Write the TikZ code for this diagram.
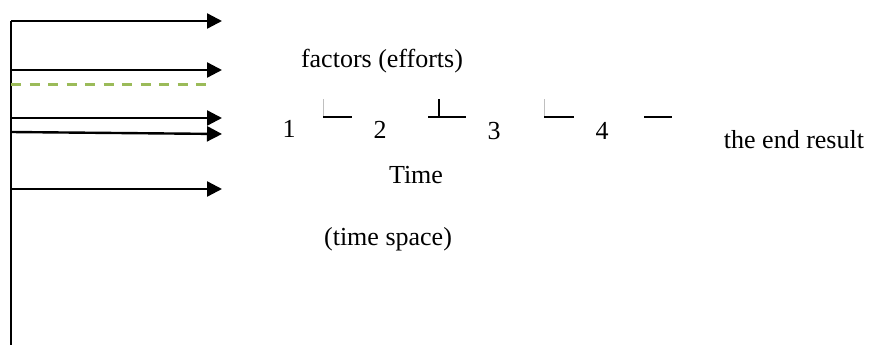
\documentclass[tikz,border=0pt]{standalone}
\usepackage{fontspec}
\setmainfont{Liberation Serif}
\usetikzlibrary{arrows.meta}
\tikzset{
  flow/.style={line width=2.4pt, -{Triangle[length=15pt,width=15pt]}},
  axisline/.style={line width=2.6pt},
  greendash/.style={line width=3pt, draw={rgb,255:red,155;green,187;blue,89}, dash pattern=on 10pt off 8.5pt},
  lbl/.style={inner sep=0pt, anchor=base, font=\fontsize{26}{30}\selectfont},
  tick/.style={line width=2pt},
  faint/.style={line width=0.8pt, draw=black!25},
}
\begin{document}
\begin{tikzpicture}[x=1pt,y=-1pt]
\useasboundingbox (0,0) rectangle (870,345);
% vertical axis
\coordinate (top) at (11,21);
\coordinate (bot) at (11,345);
\draw[axisline] (top) -- (bot);
% arrows
\coordinate (s1) at (11,21);   \coordinate (e1) at (222,21);
\coordinate (s2) at (11,70);   \coordinate (e2) at (222,70);
\coordinate (s3) at (11,118);  \coordinate (e3) at (222,118);
\coordinate (s4) at (11,132);  \coordinate (e4) at (222,134);
\coordinate (s5) at (11,189);  \coordinate (e5) at (222,189);
\draw[flow] (s1) -- (e1);
\draw[flow] (s2) -- (e2);
\draw[flow] (s3) -- (e3);
\draw[flow] (s4) -- (e4);
\draw[flow] (s5) -- (e5);
% green dashed line
\coordinate (g1) at (11,84); \coordinate (g2) at (206,84);
\draw[greendash] (g1) -- (g2);
% labels
\node[lbl] (factors) at (382,67) {factors (efforts)};
\node[lbl] (n1) at (289,137) {1};
\node[lbl] (n2) at (380,138) {2};
\node[lbl] (n3) at (494,139) {3};
\node[lbl] (n4) at (602,139) {4};
\node[lbl] (time) at (416,183) {Time};
\node[lbl] (space) at (388,245) {(time space)};
\node[lbl] (result) at (794,148) {the end result};
% marks between numbers
\coordinate (a0) at (323,99); \coordinate (a1) at (323,117); \coordinate (a2) at (352,117);
\draw[faint] (a0) -- (a1);
\draw[tick] (a1) -- (a2);
\coordinate (b0) at (428,117); \coordinate (b1) at (466,117);
\coordinate (bt) at (439,99); \coordinate (bb) at (439,117);
\draw[tick] (b0) -- (b1);
\draw[tick] (bt) -- (bb);
\coordinate (c0) at (544,99); \coordinate (c1) at (544,117); \coordinate (c2) at (574,117);
\draw[faint] (c0) -- (c1);
\draw[tick] (c1) -- (c2);
\coordinate (d1) at (644,117); \coordinate (d2) at (672,117);
\draw[tick] (d1) -- (d2);
\end{tikzpicture}
\end{document}
